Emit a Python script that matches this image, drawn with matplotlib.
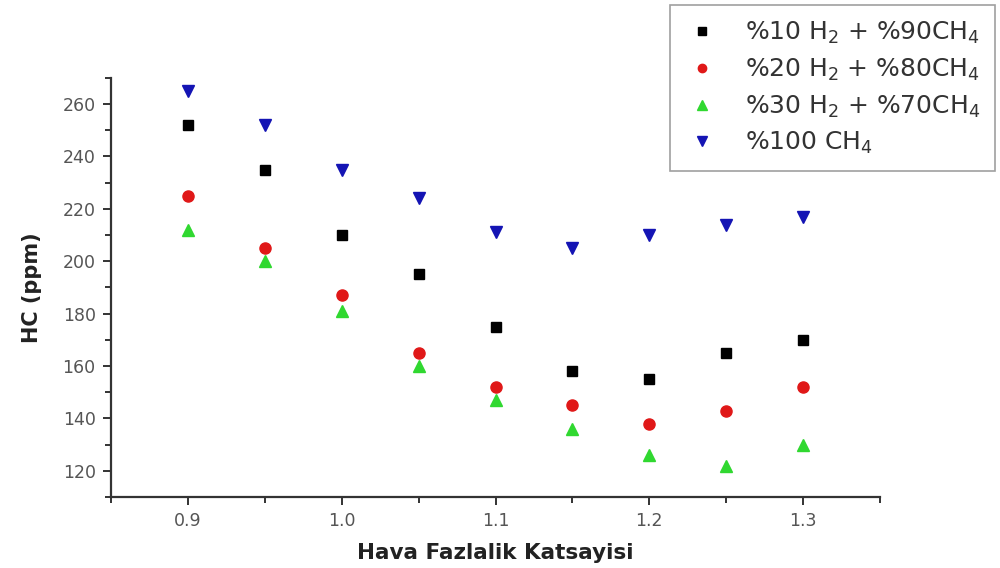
import matplotlib
matplotlib.use("Agg")
import matplotlib.pyplot as plt
from matplotlib.ticker import MultipleLocator

plt.rcParams['font.family'] = ['DejaVu Sans']
plt.rcParams['mathtext.fontset'] = 'dejavusans'
plt.rcParams['mathtext.default'] = 'regular'

# Excess air coefficient
lam = [0.90, 0.95, 1.00, 1.05, 1.10, 1.15, 1.20, 1.25, 1.30]

# HC emissions (ppm) for each fuel blend
hc_h2_10 = [252, 235, 210, 195, 175, 158, 155, 165, 170]
hc_h2_20 = [225, 205, 187, 165, 152, 145, 138, 143, 152]
hc_h2_30 = [212, 200, 181, 160, 147, 136, 126, 122, 130]
hc_ch4 = [265, 252, 235, 224, 211, 205, 210, 214, 217]

labels = [r'%10 H$_2$ + %90CH$_4$',
          r'%20 H$_2$ + %80CH$_4$',
          r'%30 H$_2$ + %70CH$_4$',
          r'%100 CH$_4$']

fig = plt.figure(figsize=(10, 5.68), dpi=100)
ax = fig.add_axes([0.111, 0.125, 0.769, 0.738])

ax.plot(lam, hc_h2_10, 's', color='black', ms=7.5, label=labels[0])
ax.plot(lam, hc_h2_20, 'o', color='#e01818', ms=8, label=labels[1])
ax.plot(lam, hc_h2_30, '^', color='#30d830', ms=9, label=labels[2])
ax.plot(lam, hc_ch4, 'v', color='#1414b4', ms=9, label=labels[3])

ax.set_xlim(0.85, 1.35)
ax.set_ylim(110, 270)
ax.xaxis.set_minor_locator(MultipleLocator(0.05))
ax.yaxis.set_minor_locator(MultipleLocator(10))
ax.set_xticks([0.9, 1.0, 1.1, 1.2, 1.3])
ax.set_xticklabels(['0.9', '1.0', '1.1', '1.2', '1.3'])
ax.set_yticks(range(120, 261, 20))

for s in ('top', 'right'):
    ax.spines[s].set_visible(False)
for s in ('left', 'bottom'):
    ax.spines[s].set_linewidth(1.6)
    ax.spines[s].set_color('#333333')

ax.tick_params(which='major', direction='out', length=6, width=1.4,
               colors='#333333', labelsize=12.5, labelcolor='#555555', pad=5)
ax.tick_params(which='minor', direction='out', length=4, width=1.4, colors='#333333')

ax.set_xlabel('Hava Fazlalik Katsayisi', fontsize=15.5, fontweight='bold',
              color='#222222', labelpad=9)
ax.set_ylabel('HC (ppm)', fontsize=15, fontweight='bold',
              color='#222222', labelpad=15)

leg = fig.legend(loc='upper right', bbox_to_anchor=(0.995, 0.991),
                 borderaxespad=0.0,
                 fontsize=18, frameon=True, fancybox=False,
                 edgecolor='#888888', borderpad=0.6, labelspacing=0.42,
                 handletextpad=1.0, handlelength=1.4, markerscale=0.75)
leg.get_frame().set_linewidth(1.2)
for t in leg.get_texts():
    t.set_color('#333333')

fig.savefig('out.png', dpi=100)
